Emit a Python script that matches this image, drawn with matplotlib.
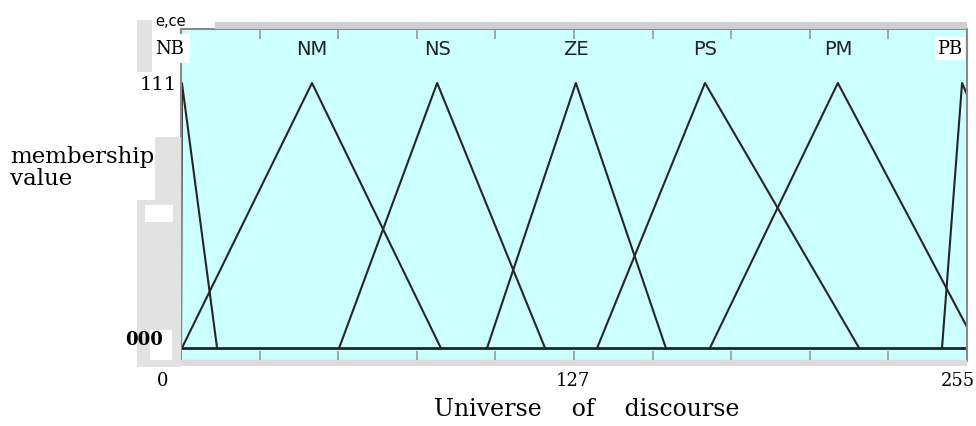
import matplotlib
matplotlib.use("Agg")
import matplotlib.pyplot as plt
from matplotlib.patches import Rectangle

# ---- data ----
labels = ['NB', 'NM', 'NS', 'ZE', 'PS', 'PM', 'PB']
left_feet = [0.0, 0.3, 51.3, 99.3, 135.0, 171.6, 246.9]
peaks = [0.3, 42.5, 83.1, 128.1, 170.0, 213.1, 253.4]
right_feet = [11.7, 84.3, 118.1, 157.3, 220.0, 258.6, 290.0]
x_tick_values = [0, 127, 255]
x_tick_labels = ['0', '127', '255']
y_tick_labels = ['000', '111']

W, H = 976, 426
fig = plt.figure(figsize=(W / 100, H / 100), dpi=100)
fig.patch.set_facecolor('white')

def fx(px):
    return px / W

def fy(py):
    return 1 - py / H

def panel(x0, y0, x1, y1, color):
    fig.patches.append(Rectangle((fx(x0), fy(y1)), (x1 - x0) / W, (y1 - y0) / H,
                                 transform=fig.transFigure, facecolor=color,
                                 edgecolor='none', zorder=0))

# grey panels left of the plot
panel(137, 20, 152, 72, '#e2e2e2')
panel(155, 137, 181, 200, '#e2e2e2')
panel(137, 200, 181, 367, '#e2e2e2')
panel(145, 205, 173, 222, 'white')
panel(150, 330, 172, 360, 'white')
# grey bar at the top of the frame
panel(215, 22, 967, 29, '#cfcfcf')
# grey strip under the frame
panel(181, 360, 967, 366, '#dcdcdc')

ax_left, ax_right, ax_top, ax_bottom = 181, 967, 29, 361
ax = fig.add_axes([fx(ax_left), fy(ax_bottom), (ax_right - ax_left) / W, (ax_bottom - ax_top) / H])
ax.set_facecolor('#ccffff')

y_base_px, y_peak_px = 348, 83
unit = y_base_px - y_peak_px
ax.set_xlim(0, 255)
ax.set_ylim(-(ax_bottom - y_base_px) / unit, (y_base_px - ax_top) / unit)

for lf, pk, rf in zip(left_feet, peaks, right_feet):
    ax.plot([lf, pk, rf], [0, 1, 0], color='#262626', lw=1.5, clip_on=True)

# baseline
ax.axhline(0, color='#222222', lw=2.0)

for s in ax.spines.values():
    s.set_color('#8a8a8a')
    s.set_linewidth(1.5)

# tick marks (10 intervals) on top and bottom
ax.set_xticks([255 * k / 10 for k in range(1, 10)])
ax.set_xticklabels([])
ax.set_yticks([])
ax.tick_params(axis='x', which='both', direction='in', length=7, width=1.2, color='#9a9a9a',
               top=True, bottom=True)

# category labels
sans = ['DejaVu Sans']
serif = ['DejaVu Serif']
for lab, pk in zip(labels, peaks):
    if lab == 'NB':
        ax.text(-3.6, 1.13, lab, fontsize=13, family=serif, ha='center', va='center',
                bbox=dict(facecolor='white', edgecolor='none', pad=4), clip_on=False, zorder=5)
    elif lab == 'PB':
        ax.text(249.5, 1.13, lab, fontsize=13, family=serif, ha='center', va='center',
                bbox=dict(facecolor='white', edgecolor='none', pad=2), clip_on=False, zorder=5)
    else:
        ax.text(pk, 1.125, lab, fontsize=14, family=sans, ha='center', va='center',
                color='#222222')

fig.text(fx(171), fy(22), 'e,ce', fontsize=10.5, family=sans, ha='center', va='center')

# y tick labels
fig.text(fx(177), fy(85), y_tick_labels[1], fontsize=14, family=serif, ha='right', va='center')
fig.text(fx(163), fy(340), y_tick_labels[0], fontsize=13, family=serif, ha='right', va='center',
         fontweight='bold')

# x tick labels
for v, t in zip(x_tick_values, x_tick_labels):
    px = ax_left + v / 255 * (ax_right - ax_left)
    if v == 0:
        px = 163
    elif v == 255:
        px = 958
    fig.text(fx(px), fy(381), t, fontsize=13, family=serif, ha='center', va='center')

fig.text(fx(10), fy(146), 'membership\nvalue', fontsize=16.5, family=serif, ha='left', va='top',
         linespacing=1.0)
fig.text(fx(587), fy(410), 'Universe    of    discourse', fontsize=17, family=serif,
         ha='center', va='center')

fig.savefig('out.png', dpi=100, facecolor='white')
